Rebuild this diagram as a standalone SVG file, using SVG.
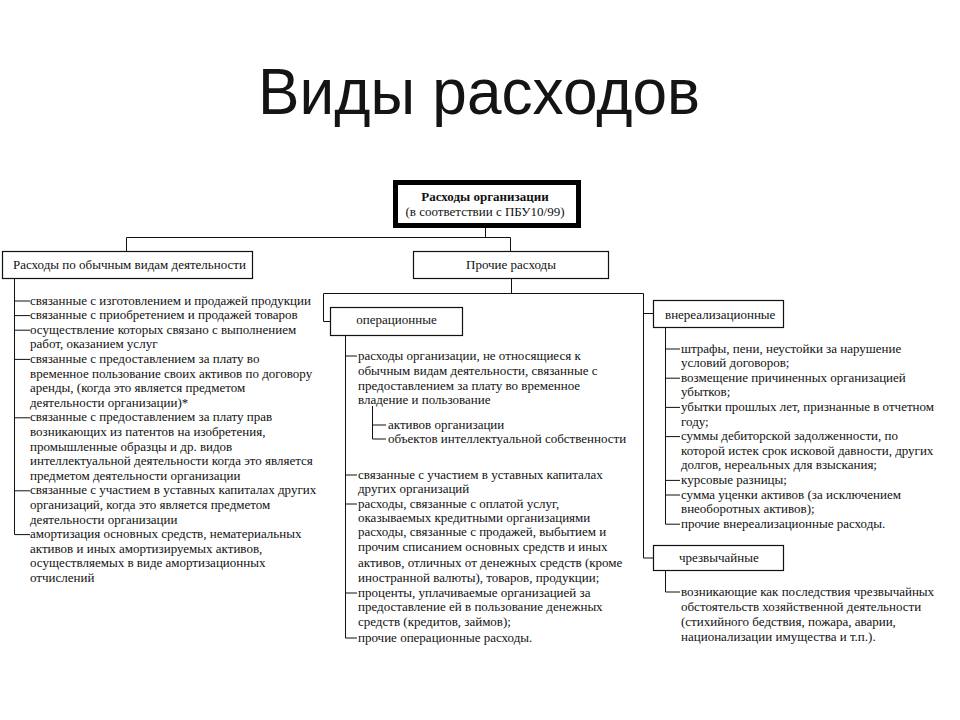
<svg xmlns="http://www.w3.org/2000/svg" width="960" height="720" viewBox="0 0 960 720">
<style>
.title{font-family:"Liberation Sans",Arial,sans-serif;font-size:64px;fill:#141414}
.t{font-family:"Liberation Serif","Times New Roman",serif;font-size:13px;fill:#111}
.bold{font-weight:bold}
.box{fill:#fff;stroke:#111;stroke-width:1.2}
.main{fill:#fff;stroke:#000;stroke-width:5}
.c{fill:none;stroke:#111;stroke-width:1}
.mid{text-anchor:middle}
</style>
<rect width="960" height="720" fill="#fff"/>
<text class="title" x="258" y="114" textLength="442" lengthAdjust="spacingAndGlyphs">Виды расходов</text>

<g id="connectors">
<path class="c" d="M485.5 228 V237.5 M126.5 237.5 H510.5 M126.5 237.5 V251 M510.5 237.5 V251"/>
<path class="c" d="M14.5 278 V534.6 M14.5 301 H30 M14.5 315.6 H30 M14.5 330.2 H30 M14.5 359.4 H30 M14.5 417.8 H30 M14.5 490.8 H30 M14.5 534.6 H30"/>
<path class="c" d="M511.5 278 V293.5 M323.5 293.5 H643.5 M323.5 293.5 V321.5 H330 M643.5 293.5 V558 H653 M643.5 313.5 H653"/>
<path class="c" d="M345.5 335 V638 M345.5 356 H357 M345.5 475 H357 M345.5 504 H357 M345.5 593 H357 M345.5 638 H357"/>
<path class="c" d="M372.5 406 V439 M372.5 425 H386 M372.5 439 H386"/>
<path class="c" d="M665.5 327 V524.2 M665.5 349 H680 M665.5 378.2 H680 M665.5 407.4 H680 M665.5 436.6 H680 M665.5 480.4 H680 M665.5 495 H680 M665.5 524.2 H680"/>
<path class="c" d="M665.5 570 V592 H680"/>
</g>

<g id="root">
<rect class="main" x="395.5" y="182.5" width="183" height="43"/>
<text class="t bold mid" x="485" y="201">Расходы организации</text>
<text class="t mid" x="485" y="216">(в соответствии с ПБУ10/99)</text>
</g>

<g id="ordinary">
<rect class="box" x="2.5" y="251.5" width="250" height="27"/>
<text class="t" x="13" y="268.5">Расходы по обычным видам деятельности</text>
</g>

<g id="ordinary-items" class="t">
<text x="30" y="304.5">связанные с изготовлением и продажей продукции</text>
<text x="30" y="319.1">связанные с приобретением и продажей товаров</text>
<text x="30" y="333.7">осуществление которых связано с выполнением</text>
<text x="30" y="348.3">работ, оказанием услуг</text>
<text x="30" y="362.9">связанные с предоставлением за плату во</text>
<text x="30" y="377.5">временное пользование своих активов по договору</text>
<text x="30" y="392.1">аренды, (когда это является предметом</text>
<text x="30" y="406.7">деятельности организации)*</text>
<text x="30" y="421.3">связанные с предоставлением за плату прав</text>
<text x="30" y="435.9">возникающих из патентов на изобретения,</text>
<text x="30" y="450.5">промышленные образцы и др. видов</text>
<text x="30" y="465.1">интеллектуальной деятельности когда это является</text>
<text x="30" y="479.7">предметом деятельности организации</text>
<text x="30" y="494.3">связанные с участием в уставных капиталах других</text>
<text x="30" y="508.9">организаций, когда это является предметом</text>
<text x="30" y="523.5">деятельности организации</text>
<text x="30" y="538.1">амортизация основных средств, нематериальных</text>
<text x="30" y="552.7">активов и иных амортизируемых активов,</text>
<text x="30" y="567.3">осуществляемых в виде амортизационных</text>
<text x="30" y="581.9">отчислений</text>
</g>

<g id="other">
<rect class="box" x="413.5" y="251.5" width="195" height="27"/>
<text class="t mid" x="511" y="268.5">Прочие расходы</text>
</g>

<g id="operational">
<rect class="box" x="330.5" y="307.5" width="132" height="28"/>
<text class="t mid" x="396.5" y="323.5">операционные</text>
</g>

<g id="operational-items" class="t">
<text x="358" y="359.5">расходы организации, не относящиеся к</text>
<text x="358" y="374.5">обычным видам деятельности, связанные с</text>
<text x="358" y="389.5">предоставлением за плату во временное</text>
<text x="358" y="403.5">владение и пользование</text>
<text x="388" y="428.5">активов организации</text>
<text x="388" y="442.5">объектов интеллектуальной собственности</text>
<text x="358" y="478.5">связанные с участием в уставных капиталах</text>
<text x="358" y="492.5">других организаций</text>
<text x="358" y="507.5">расходы, связанные с оплатой услуг,</text>
<text x="358" y="521.5">оказываемых кредитными организациями</text>
<text x="358" y="535.8">расходы, связанные с продажей, выбытием и</text>
<text x="358" y="551.2">прочим списанием основных средств и иных</text>
<text x="358" y="566.5">активов, отличных от денежных средств (кроме</text>
<text x="358" y="581.5">иностранной валюты), товаров, продукции;</text>
<text x="358" y="596.5">проценты, уплачиваемые организацией за</text>
<text x="358" y="611.3">предоставление ей в пользование денежных</text>
<text x="358" y="626">средств (кредитов, займов);</text>
<text x="358" y="641.5">прочие операционные расходы.</text>
</g>

<g id="nonoperating">
<rect class="box" x="653.5" y="300.5" width="130" height="27"/>
<text class="t" x="665" y="318.5">внереализационные</text>
</g>

<g id="nonoperating-items" class="t">
<text x="681" y="352.5">штрафы, пени, неустойки за нарушение</text>
<text x="681" y="367.1">условий договоров;</text>
<text x="681" y="381.7">возмещение причиненных организацией</text>
<text x="681" y="396.3">убытков;</text>
<text x="681" y="410.9">убытки прошлых лет, признанные в отчетном</text>
<text x="681" y="425.5">году;</text>
<text x="681" y="440.1">суммы дебиторской задолженности, по</text>
<text x="681" y="454.7">которой истек срок исковой давности, других</text>
<text x="681" y="469.3">долгов, нереальных для взыскания;</text>
<text x="681" y="483.9">курсовые разницы;</text>
<text x="681" y="498.5">сумма уценки активов (за исключением</text>
<text x="681" y="513.1">внеоборотных активов);</text>
<text x="681" y="527.7">прочие внереализационные расходы.</text>
</g>

<g id="extraordinary">
<rect class="box" x="653.5" y="545.5" width="130" height="25"/>
<text class="t" x="679" y="561.5">чрезвычайные</text>
</g>

<g id="extraordinary-items" class="t">
<text x="681" y="595.5">возникающие как последствия чрезвычайных</text>
<text x="681" y="610.7">обстоятельств хозяйственной деятельности</text>
<text x="681" y="626">(стихийного бедствия, пожара, аварии,</text>
<text x="681" y="641.3">национализации имущества и т.п.).</text>
</g>
</svg>
